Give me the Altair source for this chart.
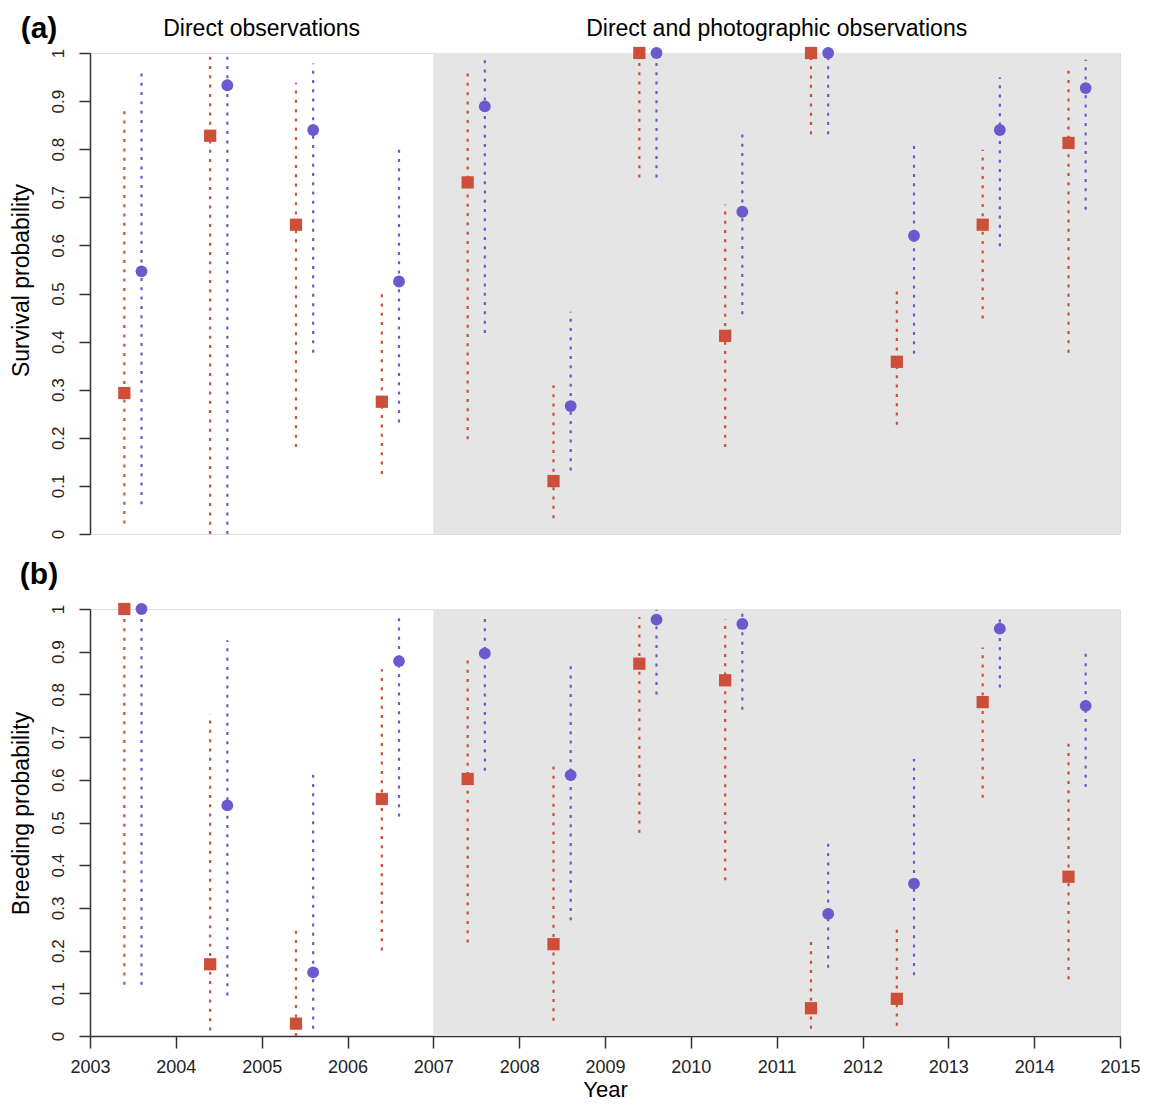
import altair as alt
import pandas as pd

years = list(range(2003, 2015))

# Panel (a): survival probability
surv_red = [0.293, 0.828, 0.643, 0.275, 0.731, 0.110, 1.0, 0.412, 1.0, 0.358, 0.643, 0.813]
surv_red_lo = [0.022, 0.0, 0.181, 0.125, 0.197, 0.033, 0.741, 0.181, 0.831, 0.227, 0.448, 0.377]
surv_red_hi = [0.886, 1.0, 0.938, 0.499, 0.967, 0.309, 1.0, 0.685, 1.0, 0.514, 0.799, 0.969]
surv_blue = [0.546, 0.933, 0.840, 0.525, 0.889, 0.266, 1.0, 0.670, 1.0, 0.620, 0.840, 0.927]
surv_blue_lo = [0.062, 0.0, 0.377, 0.232, 0.418, 0.132, 0.741, 0.457, 0.831, 0.375, 0.598, 0.674]
surv_blue_hi = [0.958, 1.0, 0.978, 0.802, 0.988, 0.462, 1.0, 0.831, 1.0, 0.817, 0.949, 0.986]

# Panel (b): breeding probability
breed_red = [1.0, 0.168, 0.029, 0.555, 0.602, 0.215, 0.872, 0.833, 0.065, 0.087, 0.782, 0.373]
breed_red_lo = [0.120, 0.013, 0.0, 0.200, 0.219, 0.036, 0.476, 0.365, 0.017, 0.024, 0.558, 0.133]
breed_red_hi = [1.0, 0.754, 0.254, 0.859, 0.889, 0.646, 0.981, 0.976, 0.221, 0.257, 0.910, 0.689]
breed_blue = [1.0, 0.540, 0.149, 0.878, 0.896, 0.611, 0.975, 0.965, 0.286, 0.357, 0.954, 0.773]
breed_blue_lo = [0.120, 0.095, 0.017, 0.514, 0.621, 0.271, 0.800, 0.764, 0.160, 0.142, 0.816, 0.583]
breed_blue_hi = [1.0, 0.927, 0.613, 0.979, 0.979, 0.868, 0.998, 0.996, 0.454, 0.649, 0.990, 0.895]

period_labels = ["Direct observations", "Direct and photographic observations"]
period_centers = [2005, 2011]
photo_start, year_end = 2007, 2015
x_ticks = list(range(2003, 2016))
y_ticks = [0, 0.1, 0.2, 0.3, 0.4, 0.5, 0.6, 0.7, 0.8, 0.9, 1]

RED = "#CD4F39"
BLUE = "#6A5ACD"
FONT = "Liberation Sans"
W = 1030


def build_df(r, rlo, rhi, b, blo, bhi):
    rows = []
    for i, yr in enumerate(years):
        rows.append(dict(x=yr + 0.4, y=r[i], lo=rlo[i], hi=rhi[i], g="red"))
        rows.append(dict(x=yr + 0.6, y=b[i], lo=blo[i], hi=bhi[i], g="blue"))
    return pd.DataFrame(rows)


def make_panel(df, tag, tag_y, ytitle, title_y, height, show_x, headings):
    xscale = alt.Scale(domain=[2003, 2015], nice=False, zero=False)
    yscale = alt.Scale(domain=[0, 1], nice=False, zero=False)
    if show_x:
        xaxis = alt.Axis(values=x_ticks, format="d", grid=False, domainColor="#333",
                         tickColor="#333", domainWidth=1.5, tickWidth=1.5, tickSize=12,
                         labelPadding=10, labelFontSize=18, labelColor="#222",
                         labelFlush=False, labelOverlap=False, title="Year",
                         titleFontSize=22, titleFontWeight="normal", titleColor="black",
                         titleX=W / 2, titleY=53, titleAlign="center", titleBaseline="middle")
    else:
        xaxis = None
    yaxis = alt.Axis(values=y_ticks, format="~g", grid=False, domainColor="#333",
                     tickColor="#333", domainWidth=1.5, tickWidth=1.5, tickSize=11,
                     labelAngle=270, labelAlign="center", labelBaseline="bottom",
                     labelPadding=12, labelFontSize=17, labelColor="#222",
                     labelFlush=False, labelOverlap=False, title=ytitle,
                     titleFontSize=23, titleFontWeight="normal", titleColor="black",
                     titleAngle=270, titleX=-69, titleY=title_y, titleAlign="center",
                     titleBaseline="middle")

    shade = alt.Chart(pd.DataFrame({"x1": [photo_start], "x2": [year_end], "y1": [0], "y2": [1]})).mark_rect(
        color="#E5E5E5").encode(
        x=alt.X("x1:Q", scale=xscale, axis=xaxis),
        x2="x2:Q",
        y=alt.Y("y1:Q", scale=yscale, axis=yaxis),
        y2="y2:Q",
    )
    color = alt.Color("g:N", scale=alt.Scale(domain=["red", "blue"], range=[RED, BLUE]), legend=None)
    bars = alt.Chart(df).mark_rule(strokeDash=[3, 6.3], strokeWidth=2.2).encode(
        x=alt.X("x:Q", scale=xscale, axis=xaxis),
        y=alt.Y("lo:Q", scale=yscale, axis=yaxis),
        y2="hi:Q",
        color=color,
    )
    pts = alt.Chart(df).mark_point(filled=True, opacity=1).encode(
        x=alt.X("x:Q", scale=xscale, axis=xaxis),
        y=alt.Y("y:Q", scale=yscale, axis=yaxis),
        color=color,
        shape=alt.Shape("g:N", scale=alt.Scale(domain=["red", "blue"], range=["square", "circle"]), legend=None),
        size=alt.Size("g:N", scale=alt.Scale(domain=["red", "blue"], range=[150, 140]), legend=None),
    )
    tagc = alt.Chart(pd.DataFrame({"t": [tag]})).mark_text(
        fontSize=30, fontWeight="bold", align="center", baseline="middle", color="black").encode(
        x=alt.value(-51), y=alt.value(tag_y), text="t:N")
    layers = [shade, bars, pts, tagc]
    if headings:
        hd = alt.Chart(pd.DataFrame({"x": period_centers, "t": period_labels})).mark_text(
            fontSize=23, align="center", baseline="middle", color="black").encode(
            x=alt.X("x:Q", scale=xscale, axis=xaxis), y=alt.value(-24.5), text="t:N")
        layers.append(hd)
    return alt.layer(*layers).properties(width=W, height=height)


df_a = build_df(surv_red, surv_red_lo, surv_red_hi, surv_blue, surv_blue_lo, surv_blue_hi)
df_b = build_df(breed_red, breed_red_lo, breed_red_hi, breed_blue, breed_blue_lo, breed_blue_hi)

top = make_panel(df_a, "(a)", -24.5, "Survival probability", 227, 481, False, True)
bottom = make_panel(df_b, "(b)", -34.5, "Breeding probability", 204, 427, True, False)

chart = alt.vconcat(top, bottom, spacing=75, bounds="flush").configure_view(
    stroke=None).configure(font=FONT).properties(
    padding={"left": 1, "top": 5, "right": 0, "bottom": 0})

chart.save("out.html", embed_options={"renderer": "svg", "actions": False})
